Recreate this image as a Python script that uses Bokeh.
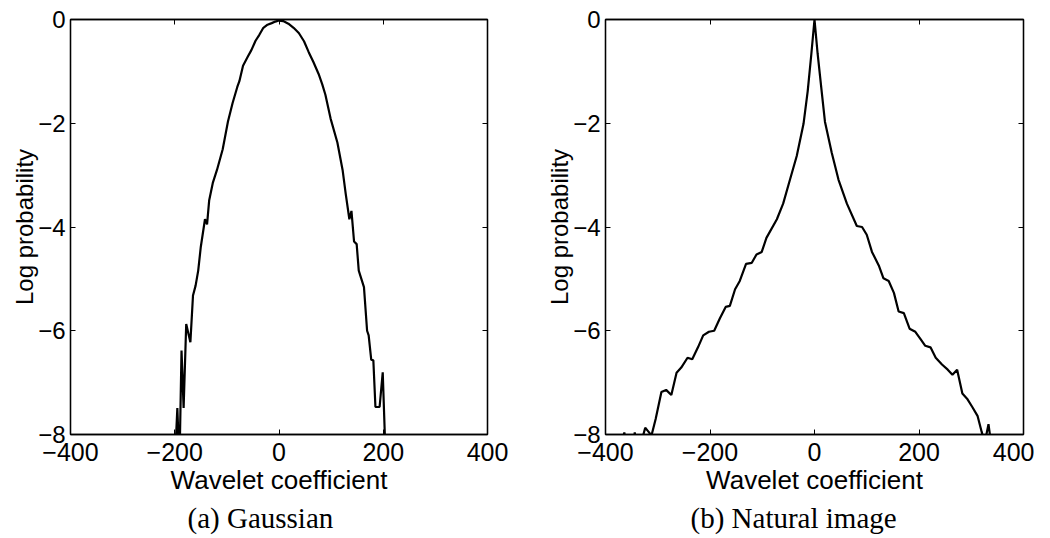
from bokeh.plotting import figure
from bokeh.layouts import row
from bokeh.models import Range1d, FixedTicker, LinearAxis, Title
from bokeh.embed import file_html
from bokeh.resources import INLINE

# ---------------- data ----------------
x_ticks = [-400, -200, 0, 200, 400]
y_ticks = [-8, -6, -4, -2, 0]
x_tick_labels = ["\u2212400", "\u2212200", "0", "200", "400"]
y_tick_labels = ["\u22128", "\u22126", "\u22124", "\u22122", "0"]

gauss_x = [-200, -195, -191, -187, -183, -178, -170, -165, -160, -155, -150, -142, -138, -134,
           -127, -119, -108, -98, -89, -80, -76, -69, -60, -53, -45, -38, -30, -22, -14, -7,
           0, 8, 18, 28, 38, 48, 57, 66, 76, 83, 89, 99, 112, 122, 128, 135, 139, 144, 149,
           153, 163, 169, 172, 177, 181, 185, 193, 199, 203, 205]
gauss_y = [-8.6, -7.49, -8.6, -6.38, -7.49, -5.87, -6.22, -5.32, -5.13, -4.84, -4.38, -3.85, -3.95, -3.49,
           -3.15, -2.9, -2.5, -1.97, -1.61, -1.30, -1.19, -0.89, -0.72, -0.59, -0.41, -0.30, -0.16, -0.10, -0.07, -0.04,
           -0.02, -0.03, -0.08, -0.16, -0.26, -0.42, -0.63, -0.82, -1.05, -1.25, -1.45, -1.91, -2.37, -2.9, -3.36, -3.85, -3.69, -4.28, -4.33,
           -4.84, -5.16, -6.0, -6.09, -6.56, -6.57, -7.47, -7.47, -6.8, -8.0, -8.6]

natural_x = [-375, -364, -358, -349, -344, -338, -324, -319, -312, -304, -293, -284, -274, -264,
             -255, -243, -234, -223, -213, -202, -192, -181, -170, -162, -152, -143, -131, -120,
             -111, -101, -92, -72, -60, -47, -34, -21, -13, -6, 0, 6, 13, 20, 33, 46, 62, 81,
             91, 100, 110, 123, 132, 142, 152, 161, 171, 182, 193, 203, 212, 222, 232, 244,
             255, 264, 273, 283, 292, 302, 312, 320, 324, 328, 333, 337, 341]
natural_y = [-8.4, -7.96, -8.4, -8.4, -7.96, -8.4, -7.87, -7.93, -8.02, -7.70, -7.18, -7.14, -7.24, -6.81,
             -6.71, -6.52, -6.55, -6.32, -6.09, -6.02, -6.00, -5.76, -5.54, -5.52, -5.20, -5.04, -4.71, -4.69,
             -4.53, -4.48, -4.21, -3.85, -3.55, -3.09, -2.63, -2.01, -1.38, -0.66, 0.0, -0.66, -1.32, -1.97, -2.57, -3.09, -3.55, -3.98,
             -4.00, -4.15, -4.48, -4.74, -4.99, -5.04, -5.27, -5.63, -5.66, -5.96, -6.02, -6.16, -6.29, -6.32, -6.52, -6.65,
             -6.75, -6.85, -6.75, -7.21, -7.31, -7.47, -7.64, -7.95, -8.1, -8.05, -7.8, -8.1, -8.5]

FONT = "Liberation Sans"
SERIF = "Liberation Serif"


def make_fig(xs, ys, caption, width, border_left, border_right, cap_offset):
    p = figure(width=width, height=536,
               x_range=Range1d(-400, 400), y_range=Range1d(-8, 0),
               output_backend="svg", toolbar_location=None,
               min_border_left=border_left, min_border_right=border_right,
               min_border_top=19, min_border_bottom=102)
    p.line(xs, ys, line_color="black", line_width=2.2)
    p.grid.visible = False
    p.outline_line_color = "black"
    p.outline_line_width = 1.3
    p.background_fill_color = "white"
    p.border_fill_color = "white"

    xt = FixedTicker(ticks=x_ticks)
    yt = FixedTicker(ticks=y_ticks)

    xa = p.xaxis[0]
    xa.ticker = xt
    xa.major_label_overrides = {t: l for t, l in zip(x_ticks, x_tick_labels)}
    xa.axis_label = "Wavelet coefficient"
    ya = p.yaxis[0]
    ya.ticker = yt
    ya.major_label_overrides = {t: l for t, l in zip(y_ticks, y_tick_labels)}
    ya.axis_label = "Log probability"

    for ax in (xa, ya):
        ax.axis_line_color = "black"
        ax.axis_line_width = 1.3
        ax.major_tick_in = 5
        ax.major_tick_out = 0
        ax.major_tick_line_color = "black"
        ax.minor_tick_line_color = None
        ax.major_label_text_font = FONT
        ax.major_label_text_color = "black"
        ax.axis_label_text_font = FONT
        ax.axis_label_text_font_style = "normal"
        ax.axis_label_text_color = "black"
    xa.major_label_text_font_size = "25px"
    xa.axis_label_text_font_size = "26px"
    ya.major_label_text_font_size = "24px"
    ya.axis_label_text_font_size = "24px"
    xa.major_label_standoff = 8
    xa.axis_label_standoff = 1
    ya.major_label_standoff = 5
    ya.axis_label_standoff = -3

    top = LinearAxis(ticker=xt)
    right = LinearAxis(ticker=yt)
    top.major_label_overrides = {t: "" for t in x_ticks}
    right.major_label_overrides = {t: "" for t in y_ticks}
    for ax in (top, right):
        ax.axis_line_color = "black"
        ax.axis_line_width = 1.3
        ax.major_tick_in = 5
        ax.major_tick_out = 0
        ax.major_tick_line_color = "black"
        ax.minor_tick_line_color = None
        ax.major_label_standoff = 0
    p.add_layout(top, "above")
    p.add_layout(right, "right")

    cap = Title(text=caption, align="left", text_font=SERIF,
                text_font_size="29px", text_font_style="normal",
                text_color="black", offset=cap_offset, standoff=4)
    p.add_layout(cap, "below")
    return p


p1 = make_fig(gauss_x, gauss_y, "(a) Gaussian", 535, 70, 48, 117)
p2 = make_fig(natural_x, natural_y, "(b) Natural image", 499, 70, 11, 85)

layout = row(p1, p2)
open("out.html", "w").write(file_html(layout, INLINE))
